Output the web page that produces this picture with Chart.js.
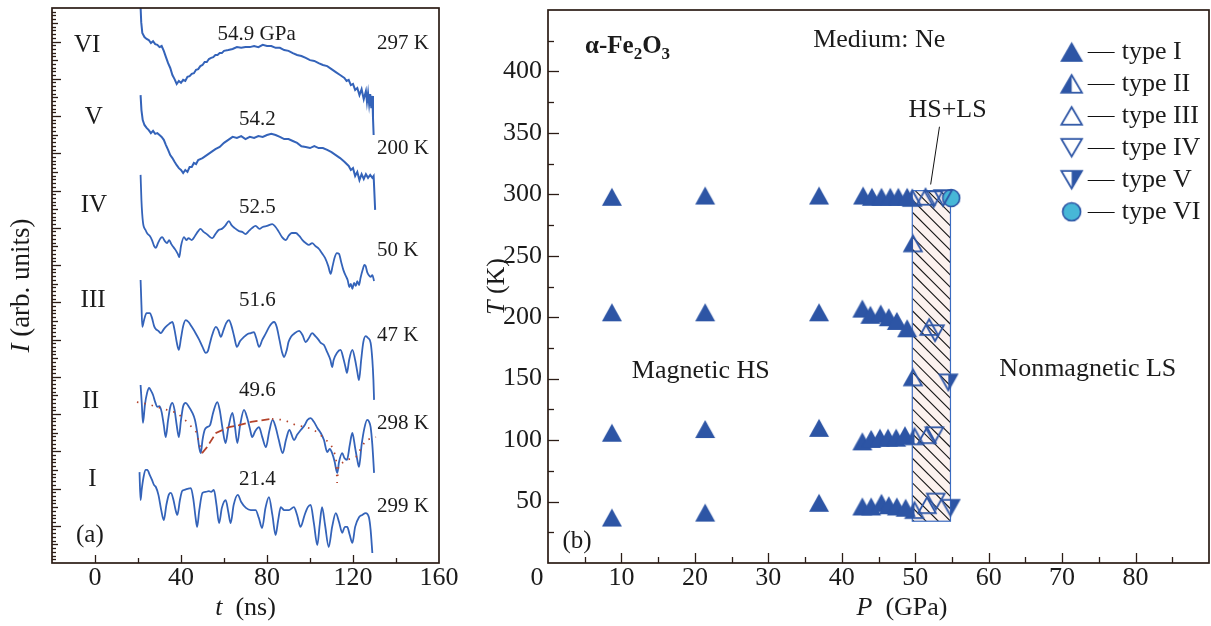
<!DOCTYPE html>
<html>
<head>
<meta charset="utf-8">
<script src="https://cdn.jsdelivr.net/npm/chart.js@4.4.1/dist/chart.umd.min.js"></script>
<style>
  html, body { margin: 0; padding: 0; background: #fff; width: 1211px; height: 626px; overflow: hidden; }
  #wrapA { position: absolute; left: 0; top: 0; width: 480px; height: 626px; }
  #wrapB { position: absolute; left: 480px; top: 0; width: 731px; height: 626px; }
</style>
</head>
<body>
<div id="wrapA"><canvas id="chartA" width="480" height="626"></canvas></div>
<div id="wrapB"><canvas id="chartB" width="731" height="626"></canvas></div>
<script>
// ---------- (a) time spectra, intensity in arbitrary units ----------
const traceVI_t = [21.0,21.5,22,23,24,25,26,27,28,29,30,31,32,33,34,35,36,37,38,39,40,41,42,43,44,45,46,47,48,49,50,51,52,53,54,55,56,57,58,59,60,62,64,66,68,70,72,74,76,78,80,82,84,86,88,90,92,94,96,98,100,102,104,106,108,110,112,114,116,117,118,119,120,121,122,123,124,125,126,126.5,127,127.5,128,128.5,129,129.3,129.6];
const traceVI_I = [152,145.2,142.3,141.2,140.7,140.4,139.6,140.1,139.3,139.1,138.5,138.8,137.5,135.8,134.2,132.9,131.0,129.9,128.6,129.4,128.9,129.7,129.4,130.5,130.7,131.3,131.5,132.4,132.6,133.4,133.7,134.5,134.5,135.3,135.6,135.8,136.4,136.4,136.9,136.9,137.5,137.7,138.0,138.5,138.3,138.5,138.5,138.8,138.5,139.1,138.8,138.8,138.3,138.3,137.7,137.5,136.9,136.4,136.1,135.6,135.0,134.8,134.2,133.7,133.4,132.6,131.8,131.0,130.2,129.4,129.7,128.3,128.6,127.0,127.5,125.6,127.2,124.5,126.7,123.8,126.2,123.2,125.9,122.1,125.4,119.5,114.9];

const traceV_t = [21.2,21.6,22.2,23,24,25,26,27,28,29,30,31,32,33,34,35,36,37,38,39,40,41,42,43,44,45,46,47,48,50,52,54,56,58,60,62,64,66,68,70,72,74,76,78,80,82,84,86,88,90,92,94,96,98,100,102,104,106,108,110,112,114,116,118,119,120,121,122,123,124,125,126,127,128,129,129.6,130.3];
const traceV_I = [125.6,121.6,118.9,117.6,116.8,116.2,115.4,116.0,115.2,115.4,114.9,114.4,113.6,112.2,110.9,109.5,108.7,107.7,106.8,106.0,105.5,104.7,105.5,105.0,106.3,106.3,107.4,107.1,108.2,108.7,109.5,110.3,111.1,111.7,112.8,113.6,114.4,114.1,114.6,113.8,114.4,114.1,114.6,114.4,114.9,115.2,114.9,114.4,113.8,113.8,113.3,112.8,111.9,111.7,111.4,111.9,111.4,111.4,110.9,110.3,109.5,108.7,107.7,106.6,105.5,106.0,103.9,105.0,102.8,104.4,103.1,104.4,103.4,104.2,103.4,103.9,94.8];

const traceIV_t = [21.2,21.6,22.3,23.5,24.5,25.5,26.5,27.5,28.3,29.3,30.5,31.3,32.5,33.5,34.5,35.5,36.5,37.5,38.5,39.2,40,41.4,42.5,43.5,45,46.5,48,49,50.5,52,53.5,54.6,56,57.5,59,60.5,62.3,63.5,65,67,68.5,70,71.5,73,74.7,76.5,78,80,82.5,84,85.5,87,88.8,90,91.5,93.4,95,96.5,98,99.5,101,102.5,104.2,105.5,107,108.5,109.6,110.5,111.5,112.5,113.5,114.5,115.5,116.7,117.5,118.3,119,119.7,120.5,121.3,122,122.8,123.5,124.5,125.3,125.9,126.6,127.3,128.2,129,129.8];
const traceIV_I = [104.2,97.4,91.5,89.4,88.3,87.8,86.7,85.1,84.6,85.9,87.2,87.5,86.4,85.9,86.7,85.6,84.8,84.0,83.0,82.1,85.1,87.5,86.7,87.2,86.7,87.8,89.1,89.7,88.9,88.3,87.5,87.2,88.3,89.4,89.7,90.5,91.8,90.7,89.9,89.1,88.9,88.3,89.1,89.9,90.5,89.7,90.2,90.5,91.0,90.2,88.9,87.5,86.7,87.8,88.6,88.6,87.8,86.7,85.9,85.4,85.9,85.1,84.3,83.2,81.9,79.7,77.6,79.7,82.1,83.2,83.0,80.8,78.7,77.0,76.0,74.1,74.9,73.6,75.2,74.4,75.7,74.6,76.5,78.7,80.0,79.7,78.1,77.3,76.8,77.3,75.7];

const traceIII_t = [21.2,21.6,22.0,22.8,24,25.5,26.5,27.5,28.3,29.5,30.6,31.8,32.9,34.5,36,37,38,39,40,41,42.2,43.5,45,46.8,48.5,50,51.5,52.5,53.5,54.5,56.2,57.3,58.5,59.8,61,62.3,63.5,64.7,66,67.5,69.3,71,72.5,73.9,75,76.3,77.8,79.5,81,82.3,83.3,84.5,85.8,87,87.9,89.2,90,91.1,92.5,94.9,96.5,98,99.5,101,102.5,104,105,106.5,108,109.5,110.3,111,112.5,114.2,115.5,116.5,117.2,118.2,119.7,121,122,122.8,123.8,124.8,125.9,127,128.2,129,129.5,129.8];
const traceIII_I = [76.0,69.3,63.4,65.2,67.1,67.1,65.8,63.6,62.8,62.3,61.7,62.6,63.4,64.2,64.7,62.6,59.3,57.2,60.4,63.6,65.2,64.7,63.4,61.7,59.9,58.0,56.4,56.9,59.1,61.2,63.4,62.6,60.7,62.6,64.4,65.2,63.6,60.9,58.0,59.6,60.7,61.5,61.7,62.0,60.4,58.0,59.9,61.7,63.4,64.4,64.7,63.4,59.9,56.6,55.3,57.2,59.3,60.7,61.5,62.3,61.2,59.3,60.4,61.7,60.9,59.9,59.1,58.5,56.6,54.5,52.6,54.5,56.4,57.2,55.0,52.6,51.0,54.5,57.2,54.5,51.3,49.1,54.5,59.3,60.9,60.4,59.1,54.5,49.1,43.8];

const traceII_t = [21.2,21.8,22.3,23.2,24.2,25.2,25.9,27,28,29,30,31,32,32.9,34,35,36,37,38,39,40,41,42.2,43.5,45.3,46.5,47.5,48.5,49.2,50,51,52.2,53.5,55,56.9,58,59.3,60.7,62,63.9,65,66.2,67.5,69.3,70.8,72,73.1,74.5,76.3,77.8,79.5,81,82.6,84,85.5,87.3,88.8,90.4,92.6,94,95.7,97.5,98.8,100.3,101.8,103.5,105,106.5,108,109.2,110.3,111.5,112.2,112.7,113.5,115,116,117.2,118.5,119.7,121,122,122.8,124,125.3,126.6,127.5,128.2,129,129.8];
const traceII_I = [47.8,42.4,37.6,42.4,45.6,47.0,46.4,45.1,43.2,41.9,42.1,40.5,37.0,33.8,38.4,41.9,43.0,41.1,37.0,33.8,38.4,42.1,43.0,42.1,40.3,38.4,35.2,30.9,29.5,33.0,35.7,36.5,37.0,40.5,43.2,41.1,36.2,32.2,36.2,40.3,37.0,32.2,37.0,41.1,38.9,36.2,33.8,35.4,36.5,33.8,31.1,35.2,38.4,36.5,33.0,29.5,33.0,35.7,33.0,34.4,35.7,37.0,38.4,38.9,37.9,36.2,34.9,33.0,29.8,30.6,29.5,27.1,25.0,24.2,27.1,29.5,28.2,27.7,31.7,34.9,30.9,27.7,25.8,31.7,36.2,38.4,37.9,36.5,31.7,24.2];

const traceI_t = [20.7,21.2,21.7,22.5,23.5,24.3,25.5,26.5,27.5,28.3,29.5,30.8,32,33.2,34.3,35.3,36.5,37.5,38.3,39.5,40.5,41.4,43,44.6,45.8,46.8,47.5,48.5,50,51.5,53,54,55.3,56.5,57.7,59,60.8,62,63.1,64.5,66.4,68,70.2,72.5,74.7,76.2,77.7,79.3,80.9,82.5,84,85.2,86.4,88,90.2,92.5,94,95.6,97.5,99,100.3,101.8,103.4,104.5,105.6,107,108.7,110.3,112,113.5,115,116.2,117.3,118.5,119.7,121,122.8,124.3,125.9,127.4,128.2,129];
const traceI_I = [24.4,16.9,19.6,22.8,25.0,25.0,23.6,22.3,20.9,20.4,18.3,14.2,11.5,15.6,18.3,18.8,16.9,14.2,12.9,16.9,19.3,19.6,19.9,20.1,16.9,12.1,9.7,14.2,18.8,19.1,19.3,19.1,19.6,15.6,10.7,14.8,16.9,13.7,10.7,15.6,18.3,16.4,14.8,14.2,14.2,12.1,9.4,14.8,17.7,12.9,7.5,11.5,15.0,14.2,14.2,15.0,12.9,9.7,12.9,15.0,15.6,10.7,4.8,10.2,15.0,10.2,4.3,9.7,13.4,11.0,8.1,9.7,9.7,7.5,5.4,9.7,12.3,12.9,13.4,12.3,8.9,2.7];

// model envelope drawn over spectrum II
const fitII_t = [19.5,24.2,33.5,38.1,42.8,47.0,49.8,52.1,56.3,62.3,67.0,72.6,82.3,87.9,93.5,98.1,101.9,106.5,109.8,112.1,112.6,113.3,117.2,121.4,126.0,130.7];
const fitII_I = [43.2,42.7,41.1,40.3,37.9,35.2,29.5,31.1,34.9,36.5,37.0,37.9,38.7,38.4,37.0,36.5,35.7,33.6,31.7,28.5,21.5,26.3,27.7,28.5,33.0,33.8];
const fitDashFrom = 49.8, fitDashTo = 82.3;

// spectrum annotations: type, pressure, temperature
const traceNames = ['VI', 'V', 'IV', 'III', 'II', 'I'];
const traceNameT = [-3.6, -0.6, -0.5, -0.9, -2.0, -1.2];
const traceNameI = [139.0, 119.6, 96.1, 70.4, 43.3, 22.3];
const tracePressures = ['54.9 GPa', '54.2', '52.5', '51.6', '49.6', '21.4'];
const pressureT = [75.2, 75.5, 75.5, 75.5, 75.5, 75.5];
const pressureI = [142.0, 119.2, 95.4, 70.6, 46.4, 22.3];
const traceTemps = ['297 K', '200 K', '50 K', '47 K', '298 K', '299 K'];
const tempT = 131.2;
const tempI = [139.5, 111.3, 84.0, 61.2, 37.5, 15.1];

// ---------- (b) P–T diagram ----------
const typeI_P = [8.7,21.4,36.9,42.9,44.1,45.4,46.6,47.7,48.9, 8.7,21.4,36.9,42.8,43.9,45.3,46.4,47.5,48.9, 8.7,21.4,36.9,42.8,44.0,45.2,46.3,47.4,48.6, 8.7,21.4,36.9,42.8,44.0,45.4,46.4,47.5,48.7];
const typeI_T = [298,299,299,299,298,298,298,298,298, 204,204,204,207,202,203,200,197,191, 106,109,110,99,101,102,102,102,104, 37,41,49,46,46,49,47,46,45];
const typeII_P = [49.6, 49.7, 49.7, 49.9, 49.9];
const typeII_T = [297, 260, 151, 103, 43];
const typeIII_P = [51.4, 51.9, 51.6, 51.6];
const typeIII_T = [298, 192, 104, 47];
const typeIV_P = [52.5, 53.8, 52.7, 52.6, 52.8];
const typeIV_T = [296, 297, 187, 104, 50];
const typeV_P = [54.5, 54.8];
const typeV_T = [147, 45];
const typeVI_P = [54.9];
const typeVI_T = [297];

const mixedBandP = [49.6, 54.8];
const mixedBandT = [34, 303];
const legendLabels = ['type I', 'type II', 'type III', 'type IV', 'type V', 'type VI'];

// ---------- shared styling ----------
const SERIF = '"Liberation Serif", "Times New Roman", serif';
const INK = '#1b1b1b';
const FRAME = '#2b1c15';
const TRACE = '#3463b9';
const MARK = '#2d55a5';
const CYAN = '#47b7d7';
const font = (size, style) => (style ? style + ' ' : '') + size + 'px ' + SERIF;
const toXY = (xs, ys) => xs.map((x, i) => ({ x: x, y: ys[i] }));
const isMult = (v, m) => Math.abs(v / m - Math.round(v / m)) < 1e-6;

// fixed axis thickness, and no extra room reserved for end labels
const fixSize = (prop, size) => s => {
  s[prop] = size;
  s.paddingTop = 0; s.paddingBottom = 0; s.paddingLeft = 0; s.paddingRight = 0;
};

function drawRuns(ctx, parts, x, y, align, baseline) {
  ctx.textBaseline = baseline || 'middle';
  ctx.textAlign = 'left';
  let total = 0;
  parts.forEach(p => { ctx.font = p.font; p.w = ctx.measureText(p.text).width; total += p.w; });
  let cx = align === 'center' ? x - total / 2 : (align === 'right' ? x - total : x);
  parts.forEach(p => { ctx.font = p.font; ctx.fillText(p.text, cx, y + (p.dy || 0)); cx += p.w; });
}

// box around the plot area plus inward tick marks on the left and bottom axes
function makeFramePlugin(xSpec, ySpec) {
  return {
    id: 'frameTicks',
    afterDraw(chart) {
      const { ctx, chartArea: a, scales } = chart;
      ctx.save();
      ctx.strokeStyle = FRAME;
      ctx.lineWidth = 1.7;
      ctx.strokeRect(a.left, a.top, a.right - a.left, a.bottom - a.top);
      ctx.lineWidth = 1.3;
      const ticks = (scale, spec, horizontal) => {
        const n = Math.round((scale.max - scale.min) / spec.step);
        for (let i = 1; i < n; i++) {
          const v = scale.min + i * spec.step;
          let len = spec.minorLen;
          if (isMult(v, spec.major)) len = spec.majorLen;
          else if (spec.mid && isMult(v, spec.mid)) len = spec.midLen;
          const p = Math.round(scale.getPixelForValue(v)) + 0.5;
          ctx.beginPath();
          if (horizontal) { ctx.moveTo(p, a.bottom); ctx.lineTo(p, a.bottom - len); }
          else { ctx.moveTo(a.left, p); ctx.lineTo(a.left + len, p); }
          ctx.stroke();
        }
      };
      ticks(scales.x, xSpec, true);
      ticks(scales.y, ySpec, false);
      ctx.restore();
    }
  };
}

// ---------- chart (a) ----------
const traceSets = [
  [traceVI_t, traceVI_I, 2.0, false], [traceV_t, traceV_I, 2.0, false], [traceIV_t, traceIV_I, 1.8, true],
  [traceIII_t, traceIII_I, 1.8, true], [traceII_t, traceII_I, 1.8, true], [traceI_t, traceI_I, 1.8, true]
];

const spectraNotes = {
  id: 'spectraNotes',
  afterDraw(chart) {
    const { ctx, chartArea: a } = chart;
    const xs = chart.scales.x, ys = chart.scales.y;
    ctx.save();
    ctx.fillStyle = INK;
    traceNames.forEach((s, i) => drawRuns(ctx, [{ text: s, font: font(25) }],
      xs.getPixelForValue(traceNameT[i]), ys.getPixelForValue(traceNameI[i]), 'center'));
    tracePressures.forEach((s, i) => drawRuns(ctx, [{ text: s, font: font(21) }],
      xs.getPixelForValue(pressureT[i]), ys.getPixelForValue(pressureI[i]), 'center'));
    traceTemps.forEach((s, i) => drawRuns(ctx, [{ text: s, font: font(21) }],
      xs.getPixelForValue(tempT), ys.getPixelForValue(tempI[i]), 'left'));
    drawRuns(ctx, [{ text: '(a)', font: font(25) }], xs.getPixelForValue(-2.4), ys.getPixelForValue(7.3), 'center');
    // axis titles
    drawRuns(ctx, [{ text: 't', font: font(26, 'italic') }, { text: '  (ns)', font: font(26) }],
      (a.left + a.right) / 2, 608, 'center');
    ctx.translate(a.left - 30, ys.getPixelForValue(74.5));
    ctx.rotate(-Math.PI / 2);
    drawRuns(ctx, [{ text: 'I', font: font(27, 'italic') }, { text: ' (arb. units)', font: font(27) }], 0, 0, 'center');
    ctx.restore();
  }
};

const datasetsA = [{
  label: 'fit II',
  data: toXY(fitII_t, fitII_I),
  showLine: true, pointRadius: 0, borderColor: '#b4432b', borderWidth: 1.7, order: 0,
  segment: {
    borderDash: c => (c.p0.parsed.x >= fitDashFrom - 1e-6 && c.p1.parsed.x <= fitDashTo + 1e-6) ? [8, 4] : [1.5, 6]
  }
}].concat(traceSets.map((s, i) => ({
  label: traceNames[i],
  data: toXY(s[0], s[1]),
  showLine: true, pointRadius: 0, borderColor: TRACE, borderWidth: s[2], order: 1,
  cubicInterpolationMode: s[3] ? 'monotone' : 'default', tension: s[3] ? 0.4 : 0
})));

new Chart(document.getElementById('chartA'), {
  type: 'scatter',
  data: { datasets: datasetsA },
  options: {
    responsive: false, animation: false, devicePixelRatio: 1,
    layout: { autoPadding: false, padding: { left: 0, right: 41, top: 8, bottom: 0 } },
    plugins: { legend: { display: false }, tooltip: { enabled: false } },
    scales: {
      x: {
        type: 'linear', min: -20, max: 160,
        grid: { display: false, drawTicks: false }, border: { display: false },
        ticks: {
          stepSize: 20, autoSkip: false, maxRotation: 0, padding: 0, color: INK,
          font: { family: SERIF, size: 26 },
          callback: v => (v >= 0 && isMult(v, 40)) ? String(v) : ''
        },
        afterFit: fixSize('height', 63)
      },
      y: {
        type: 'linear', min: 0, max: 149,
        grid: { display: false, drawTicks: false }, border: { display: false },
        ticks: { display: false },
        afterFit: fixSize('width', 52)
      }
    }
  },
  plugins: [makeFramePlugin(
    { step: 20, major: 40, majorLen: 8, minorLen: 5 },
    { step: 1, major: 10, mid: 5, majorLen: 9, midLen: 6, minorLen: 4 }
  ), spectraNotes]
});

// ---------- chart (b) ----------
function makeMarker(kind, w, h) {
  const c = document.createElement('canvas');
  c.width = w + 4; c.height = h + 4;
  const g = c.getContext('2d');
  const W = c.width, H = c.height, m = 2.2;
  g.strokeStyle = MARK; g.fillStyle = MARK; g.lineWidth = 1.8; g.lineJoin = 'miter';
  const poly = (pts, fill, stroke) => {
    g.beginPath(); g.moveTo(pts[0][0], pts[0][1]);
    for (let i = 1; i < pts.length; i++) g.lineTo(pts[i][0], pts[i][1]);
    g.closePath();
    if (fill) g.fill();
    if (stroke) g.stroke();
  };
  const up = [[W / 2, m], [m, H - m], [W - m, H - m]];
  const down = [[m, m], [W - m, m], [W / 2, H - m]];
  if (kind === 'I') poly([[W / 2, 1], [1, H - 1], [W - 1, H - 1]], true, false);
  if (kind === 'II') { poly([[W / 2, m], [m, H - m], [W / 2, H - m]], true, false); poly(up, false, true); }
  if (kind === 'III') poly(up, false, true);
  if (kind === 'IV') poly(down, false, true);
  if (kind === 'V') { poly([[W / 2, m], [W - m, m], [W / 2, H - m]], true, false); poly(down, false, true); }
  if (kind === 'VI') {
    g.beginPath(); g.arc(W / 2, H / 2, Math.min(W, H) / 2 - 1.5, 0, Math.PI * 2);
    g.fillStyle = CYAN; g.fill(); g.lineWidth = 1.6; g.stroke();
  }
  return c;
}

const kinds = ['I', 'II', 'III', 'IV', 'V', 'VI'];
const markerImgs = kinds.map(k => k === 'VI' ? makeMarker(k, 16, 16) : makeMarker(k, 18, 16));
const legendImgs = kinds.map(k => k === 'VI' ? makeMarker(k, 17, 17) : makeMarker(k, 21, 18));
const typeData = [
  [typeI_P, typeI_T], [typeII_P, typeII_T], [typeIII_P, typeIII_T],
  [typeIV_P, typeIV_T], [typeV_P, typeV_T], [typeVI_P, typeVI_T]
];

const diagramDecor = {
  id: 'diagramDecor',
  beforeDatasetsDraw(chart) {
    const { ctx } = chart;
    const xs = chart.scales.x, ys = chart.scales.y;
    const x0 = xs.getPixelForValue(mixedBandP[0]), x1 = xs.getPixelForValue(mixedBandP[1]);
    const yT = ys.getPixelForValue(mixedBandT[1]), yB = ys.getPixelForValue(mixedBandT[0]);
    ctx.save();
    ctx.fillStyle = '#fcf2ef';
    ctx.fillRect(x0, yT, x1 - x0, yB - yT);
    ctx.beginPath(); ctx.rect(x0, yT, x1 - x0, yB - yT); ctx.clip();
    ctx.strokeStyle = '#151515'; ctx.lineWidth = 1.1;
    const wd = x1 - x0;
    for (let k = yT - wd - 14; k < yB + 14; k += 12.3) {
      ctx.beginPath(); ctx.moveTo(x0, k); ctx.lineTo(x1, k + wd); ctx.stroke();
    }
    ctx.restore();
    ctx.save();
    ctx.strokeStyle = '#3b6cc2'; ctx.lineWidth = 1.2;
    ctx.strokeRect(x0, yT, x1 - x0, yB - yT);
    // leader from the HS+LS label to the band
    ctx.strokeStyle = '#111'; ctx.lineWidth = 1;
    ctx.beginPath();
    ctx.moveTo(xs.getPixelForValue(53.3), ys.getPixelForValue(355));
    ctx.lineTo(xs.getPixelForValue(52.1), ys.getPixelForValue(308));
    ctx.stroke();
    ctx.restore();
  },
  afterDraw(chart) {
    const { ctx, chartArea: a } = chart;
    const xs = chart.scales.x, ys = chart.scales.y;
    ctx.save();
    ctx.fillStyle = INK;
    drawRuns(ctx, [
      { text: 'α-Fe', font: font(25, 'bold') }, { text: '2', font: font(17, 'bold'), dy: 6 },
      { text: 'O', font: font(25, 'bold') }, { text: '3', font: font(17, 'bold'), dy: 6 }
    ], xs.getPixelForValue(5.04), ys.getPixelForValue(415), 'left', 'alphabetic');
    drawRuns(ctx, [{ text: 'Medium: Ne', font: font(26) }], xs.getPixelForValue(45.1), ys.getPixelForValue(425.5), 'center');
    drawRuns(ctx, [{ text: 'HS+LS', font: font(26) }], xs.getPixelForValue(54.4), ys.getPixelForValue(368.2), 'center');
    drawRuns(ctx, [{ text: 'Magnetic HS', font: font(26) }], xs.getPixelForValue(20.8), ys.getPixelForValue(155.7), 'center');
    drawRuns(ctx, [{ text: 'Nonmagnetic LS', font: font(26) }], xs.getPixelForValue(73.5), ys.getPixelForValue(158.1), 'center');
    drawRuns(ctx, [{ text: '(b)', font: font(25) }], xs.getPixelForValue(3.95), ys.getPixelForValue(17.9), 'center');
    // origin label sits just left of the y axis
    drawRuns(ctx, [{ text: '0', font: font(26) }], xs.getPixelForValue(0) - 11, a.bottom + 15.6, 'center');
    // legend
    const lx = xs.getPixelForValue(71.3);
    const ly0 = ys.getPixelForValue(416);
    legendLabels.forEach((s, i) => {
      const y = ly0 + i * 32;
      const img = legendImgs[i];
      ctx.drawImage(img, lx - img.width / 2, y - img.height / 2);
      ctx.strokeStyle = '#111'; ctx.lineWidth = 1;
      ctx.beginPath(); ctx.moveTo(lx + 16, Math.round(y) + 0.5); ctx.lineTo(lx + 43, Math.round(y) + 0.5); ctx.stroke();
      drawRuns(ctx, [{ text: s, font: font(26) }], lx + 50, y, 'left');
    });
    // axis titles
    drawRuns(ctx, [{ text: 'P', font: font(26, 'italic') }, { text: '  (GPa)', font: font(26) }],
      xs.getPixelForValue(48.2), 608, 'center');
    ctx.translate(a.left - 51, ys.getPixelForValue(225));
    ctx.rotate(-Math.PI / 2);
    drawRuns(ctx, [{ text: 'T', font: font(26, 'italic') }, { text: ' (K)', font: font(26) }], 0, 0, 'center');
    ctx.restore();
  }
};

new Chart(document.getElementById('chartB'), {
  type: 'scatter',
  data: {
    datasets: typeData.map((d, i) => ({
      label: legendLabels[i],
      data: toXY(d[0], d[1]),
      pointStyle: markerImgs[i], pointRadius: 9, showLine: false
    }))
  },
  options: {
    responsive: false, animation: false, devicePixelRatio: 1,
    layout: { autoPadding: false, padding: { left: 0, right: 2, top: 10, bottom: 0 } },
    plugins: { legend: { display: false }, tooltip: { enabled: false } },
    scales: {
      x: {
        type: 'linear', min: 0, max: 90,
        grid: { display: false, drawTicks: false }, border: { display: false },
        ticks: {
          stepSize: 10, autoSkip: false, maxRotation: 0, padding: 0, color: INK,
          font: { family: SERIF, size: 26 },
          callback: v => (v === 0 || v === 90) ? '' : String(v)
        },
        afterFit: fixSize('height', 63)
      },
      y: {
        type: 'linear', min: 0, max: 450,
        grid: { display: false, drawTicks: false }, border: { display: false },
        ticks: {
          stepSize: 50, autoSkip: false, padding: 6, color: INK,
          font: { family: SERIF, size: 26 },
          callback: v => (v === 0 || v === 450) ? '' : String(v)
        },
        afterFit: fixSize('width', 68)
      }
    }
  },
  plugins: [makeFramePlugin(
    { step: 5, major: 10, majorLen: 10, minorLen: 6 },
    { step: 25, major: 50, majorLen: 11, minorLen: 6 }
  ), diagramDecor]
});
</script>
</body>
</html>
